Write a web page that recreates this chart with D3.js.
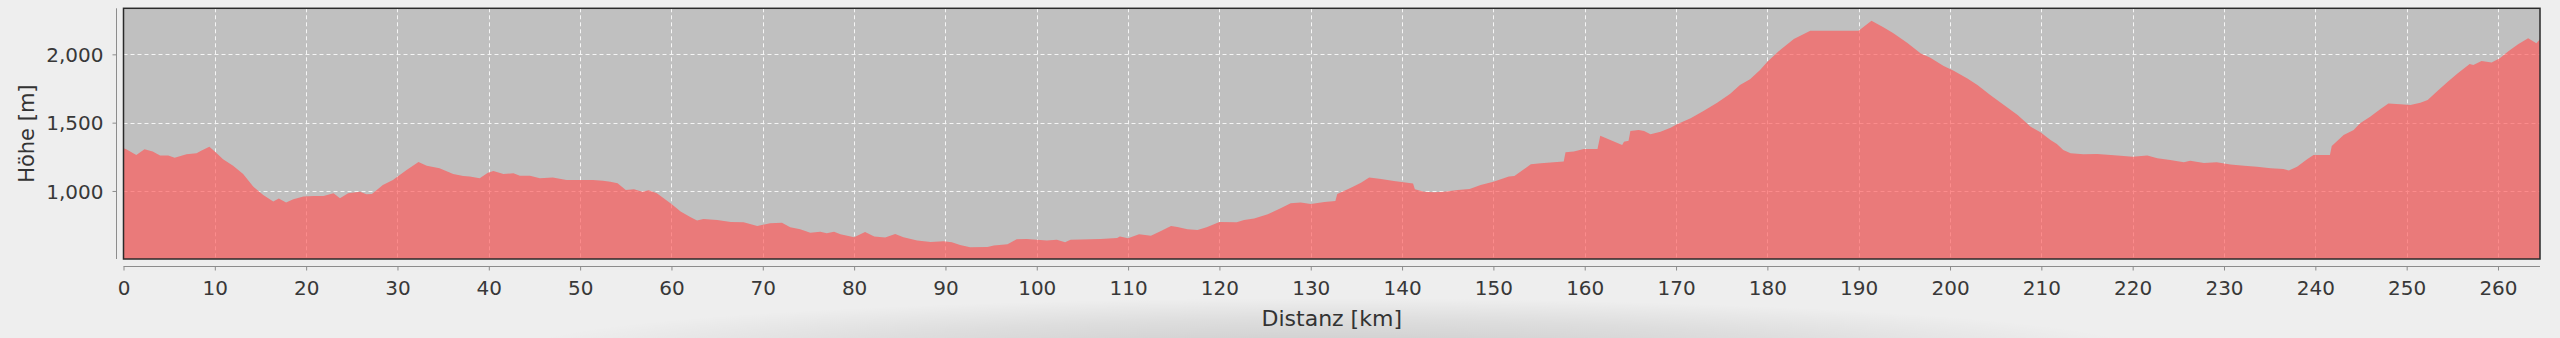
<!DOCTYPE html>
<html>
<head>
<meta charset="utf-8">
<script src="https://cdn.jsdelivr.net/npm/d3@7"></script>
<style>
  html, body { margin: 0; padding: 0; background: #eeeeee; }
  svg { display: block; }
  text { font-family: "DejaVu Sans", sans-serif; }
</style>
</head>
<body>
<svg id="chart" width="2560" height="338"></svg>
<script>
// ---- data ----
const distanceKm = [
  0, 0.3, 1.4, 2.3, 3.2, 4.0, 4.9, 5.6, 6.9, 8.0, 8.5, 9.4, 10.0, 10.9, 12.0, 13.1, 14.2, 15.3, 16.4, 17.0,
  17.8, 18.6, 19.7, 20.8, 21.9, 23.0, 23.7, 24.6, 25.9, 26.6, 27.2, 28.4, 29.5, 31.0, 32.3, 33.2, 34.6, 36.1, 37.2, 37.9,
  39.0, 39.9, 40.5, 41.6, 42.7, 43.4, 44.5, 45.6, 47.0, 48.5, 50.0, 51.4, 52.5, 53.3, 54.1, 55.0, 55.9, 56.8, 57.5, 58.4,
  60.0, 61.0, 62.1, 62.8, 63.5, 65.0, 66.5, 67.9, 69.4, 70.8, 72.1, 73.0, 74.1, 75.2, 76.3, 77.0, 77.8, 78.5, 80.0, 81.2,
  82.2, 83.4, 84.5, 85.4, 86.9, 88.4, 89.8, 90.7, 91.6, 92.7, 94.6, 95.3, 96.8, 97.8, 98.9, 100.0, 101.1, 102.2, 103.1, 103.7,
  105.9, 107.0, 108.8, 109.1, 110.0, 111.2, 112.5, 113.6, 114.7, 115.4, 116.5, 117.6, 118.6, 120.0, 121.9, 122.7, 123.8, 125.3, 126.7, 127.8,
  128.9, 130.0, 131.5, 132.7, 132.9, 134.4, 135.5, 136.4, 137.7, 139.1, 141.2, 141.4, 142.4, 143.5, 144.6, 146.1, 147.4, 148.6, 150.0, 151.7,
  152.3, 154.1, 155.2, 156.6, 157.7, 157.9, 158.8, 159.9, 161.4, 161.7, 164.1, 164.3, 164.8, 165.0, 165.9, 166.5, 167.2, 168.3, 169.4, 170.1,
  171.6, 173.0, 174.5, 175.9, 177.0, 178.1, 179.2, 180.0, 181.4, 182.9, 184.7, 190.0, 190.2, 191.4, 192.7, 193.8, 195.3, 196.8, 197.8, 199.3,
  200.4, 201.9, 203.0, 204.4, 205.9, 207.4, 208.8, 209.9, 211.0, 211.7, 212.4, 213.2, 214.6, 216.1, 217.6, 219.0, 220.0, 221.6, 222.7, 224.1,
  225.6, 226.3, 227.8, 229.2, 230.7, 232.2, 233.6, 235.1, 236.5, 237.1, 238.0, 239.1, 239.8, 241.6, 241.8, 243.1, 244.2, 244.9, 246.0, 247.1,
  248.0, 249.3, 250.4, 251.5, 252.3, 253.4, 254.5, 255.6, 256.9, 257.3, 258.2, 259.3, 260.2, 261.1, 262.2, 263.3, 264.2, 264.6
];
const elevationM = [
  1312, 1305, 1263, 1305, 1288, 1259, 1259, 1244, 1268, 1276, 1295, 1324, 1288, 1232, 1185, 1124, 1032, 971, 922, 944,
  915, 939, 959, 963, 963, 983, 946, 983, 995, 976, 978, 1044, 1080, 1154, 1212, 1185, 1166, 1124, 1110, 1105,
  1093, 1134, 1146, 1124, 1129, 1112, 1112, 1093, 1098, 1080, 1080, 1080, 1075, 1068, 1056, 1007, 1012, 995, 1005, 983,
  905, 849, 807, 783, 795, 788, 773, 771, 744, 763, 768, 734, 720, 695, 702, 690, 702, 683, 661, 700,
  666, 659, 685, 661, 637, 627, 632, 624, 605, 588, 590, 600, 610, 646, 649, 642, 637, 642, 624, 642,
  646, 649, 656, 666, 654, 683, 673, 707, 744, 737, 720, 715, 734, 773, 771, 788, 798, 829, 873, 910,
  915, 905, 920, 927, 978, 1024, 1061, 1098, 1088, 1073, 1054, 1012, 995, 990, 995, 1007, 1015, 1044, 1068, 1105,
  1110, 1195, 1202, 1210, 1215, 1283, 1288, 1307, 1307, 1405, 1337, 1361, 1368, 1439, 1446, 1439, 1415, 1434, 1463, 1488,
  1532, 1585, 1646, 1710, 1776, 1817, 1885, 1946, 2032, 2112, 2173, 2173, 2183, 2246, 2198, 2154, 2085, 2007, 1976, 1915,
  1880, 1824, 1776, 1702, 1629, 1556, 1471, 1429, 1373, 1344, 1300, 1276, 1268, 1271, 1263, 1256, 1251, 1259, 1239, 1227,
  1210, 1222, 1205, 1210, 1193, 1185, 1178, 1166, 1161, 1149, 1178, 1232, 1263, 1263, 1329, 1410, 1446, 1495, 1544, 1598,
  1641, 1634, 1629, 1646, 1666, 1734, 1800, 1861, 1929, 1922, 1951, 1941, 1971, 2020, 2073, 2117, 2081, 2110
];
const xTicks = d3.range(0, 261, 10);
const yTicks = [1000, 1500, 2000];
const xDomain = [0, 264.6];
const yDomain = [502, 2337];
const xLabel = "Distanz [km]";
const yLabel = "Höhe [m]";

// ---- layout ----
const plot = { left: 123.5, right: 2540, top: 8.3, bottom: 259 };
const svg = d3.select("#chart");

const x = d3.scaleLinear().domain(xDomain).range([plot.left, plot.right]);
const y = d3.scaleLinear().domain(yDomain).range([plot.bottom, plot.top]);

// bottom shadow
const defs = svg.append("defs");
const rg = defs.append("radialGradient").attr("id", "shadow")
  .attr("cx", "50%").attr("cy", "50%").attr("r", "50%");
rg.append("stop").attr("offset", "0%").attr("stop-color", "#000").attr("stop-opacity", 0.15);
rg.append("stop").attr("offset", "60%").attr("stop-color", "#000").attr("stop-opacity", 0.07);
rg.append("stop").attr("offset", "100%").attr("stop-color", "#000").attr("stop-opacity", 0);
svg.append("ellipse").attr("cx", 1330).attr("cy", 352).attr("rx", 820).attr("ry", 54)
  .attr("fill", "url(#shadow)");

// plot background
svg.append("rect")
  .attr("x", plot.left).attr("y", plot.top)
  .attr("width", plot.right - plot.left).attr("height", plot.bottom - plot.top)
  .attr("fill", "#c0c0c0");

// gridlines
const grid = svg.append("g").attr("stroke", "#ffffff").attr("stroke-width", 1)
  .attr("stroke-dasharray", "4,3").attr("opacity", 0.85);
grid.selectAll("line.v").data(xTicks.filter(d => d > 0)).join("line")
  .attr("x1", d => Math.round(x(d)) + 0.5).attr("x2", d => Math.round(x(d)) + 0.5)
  .attr("y1", plot.top).attr("y2", plot.bottom);
grid.selectAll("line.h").data(yTicks).join("line")
  .attr("y1", d => Math.round(y(d)) + 0.5).attr("y2", d => Math.round(y(d)) + 0.5)
  .attr("x1", plot.left).attr("x2", plot.right);

// area
const pts = distanceKm.map((d, i) => [d, elevationM[i]]);
const area = d3.area().x(d => x(d[0])).y0(plot.bottom).y1(d => y(d[1]));
svg.append("path").datum(pts).attr("d", area)
  .attr("fill", "#ff5555").attr("fill-opacity", 0.66);

// plot outline
svg.append("rect")
  .attr("x", plot.left).attr("y", plot.top)
  .attr("width", plot.right - plot.left).attr("height", plot.bottom - plot.top)
  .attr("fill", "none").attr("stroke", "#2a2a2a").attr("stroke-width", 1.5);

// x axis
const xAxis = d3.axisBottom(x).tickValues(xTicks).tickSize(4).tickPadding(6)
  .tickFormat(d3.format("d"));
const gx = svg.append("g").attr("transform", `translate(0,266.5)`).call(xAxis);
gx.select(".domain").attr("stroke", "#8c8c8c").attr("d", `M${plot.left},0H${plot.right}`);
gx.selectAll(".tick line").attr("stroke", "#8c8c8c");
gx.selectAll(".tick text").attr("fill", "#383838").attr("font-size", 20)
  .attr("font-family", "DejaVu Sans").attr("dy", 0).attr("y", 28.5);

// y axis
const yAxis = d3.axisLeft(y).tickValues(yTicks).tickSize(4).tickPadding(8)
  .tickFormat(d3.format(","));
const gy = svg.append("g").attr("transform", `translate(116.5,0)`).call(yAxis);
gy.select(".domain").attr("stroke", "#8c8c8c").attr("d", `M0,${plot.top}V${plot.bottom}`);
gy.selectAll(".tick line").attr("stroke", "#8c8c8c");
gy.selectAll(".tick text").attr("fill", "#383838").attr("font-size", 20)
  .attr("font-family", "DejaVu Sans").attr("dy", "0.36em").attr("x", -13);

// axis labels
svg.append("text").attr("x", (plot.left + plot.right) / 2).attr("y", 326)
  .attr("text-anchor", "middle").attr("font-size", 22).attr("fill", "#333")
  .text(xLabel);
svg.append("text").attr("transform", `translate(34,${(plot.top + plot.bottom) / 2}) rotate(-90)`)
  .attr("text-anchor", "middle").attr("font-size", 21).attr("fill", "#333")
  .text(yLabel);
</script>
</body>
</html>
